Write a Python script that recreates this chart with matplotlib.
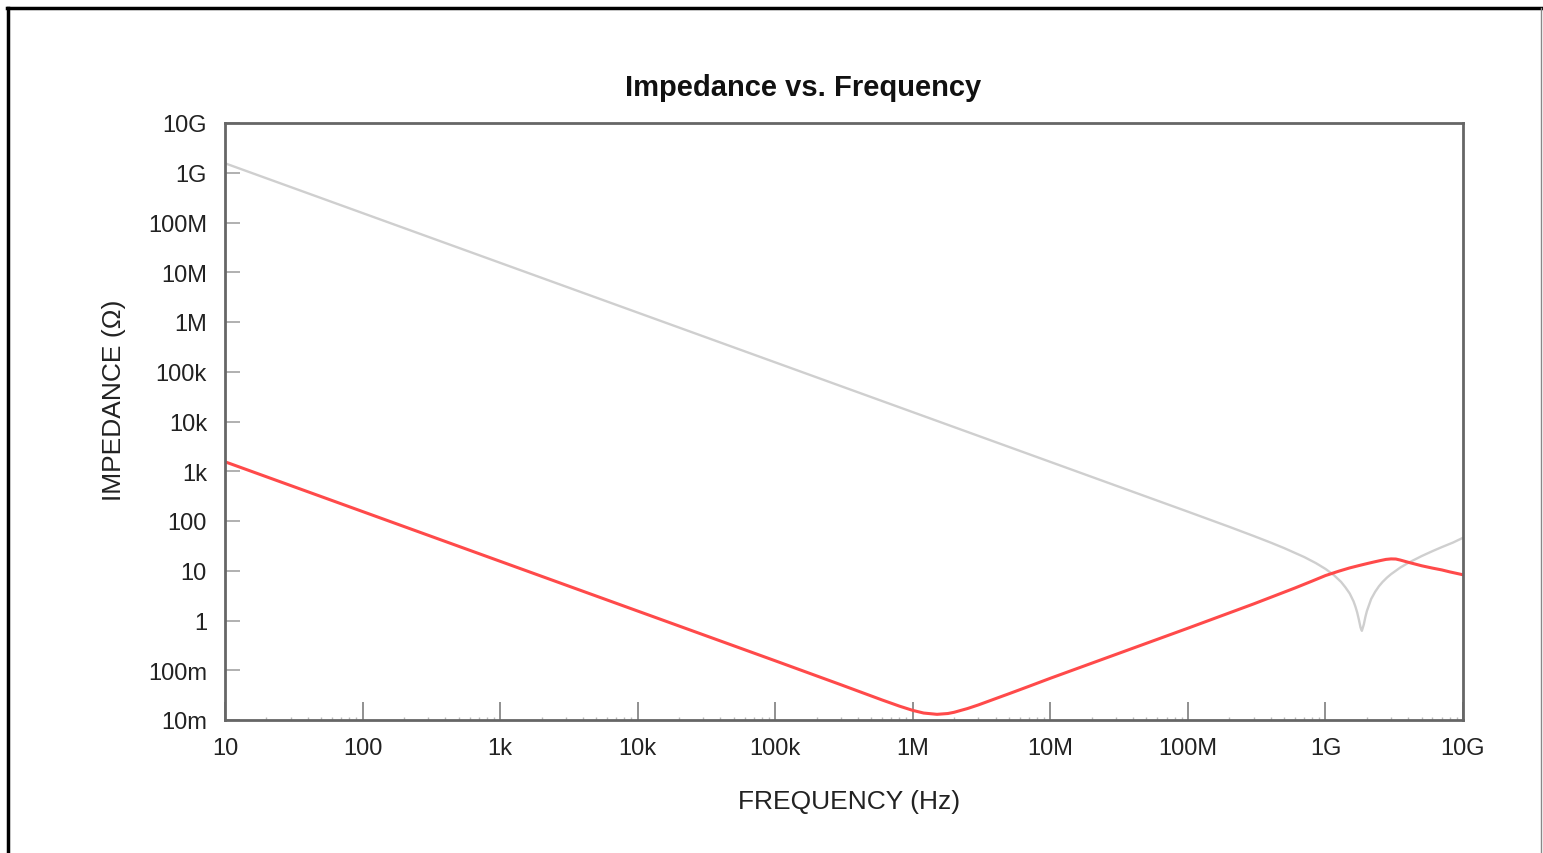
import matplotlib
matplotlib.use("Agg")
import matplotlib.pyplot as plt
from matplotlib.lines import Line2D
from matplotlib.ticker import FixedLocator, LogLocator, NullFormatter

plt.rcParams['font.family'] = ['Liberation Sans', 'DejaVu Sans']

# gray curve (small capacitor, self-resonance near 1.8 GHz)
gray_f = [10, 1e8, 2e8, 3e8, 4e8, 5e8, 7e8, 8.5e8, 1e9, 1.15e9, 1.3e9, 1.4e9, 1.5e9,
          1.6e9, 1.65e9, 1.7e9, 1.75e9, 1.8e9, 1.84e9, 1.9e9, 1.95e9, 2e9, 2.15e9,
          2.3e9, 2.45e9, 2.6e9, 2.8e9, 3e9, 3.5e9, 4e9, 5e9, 6e9, 7e9, 8.5e9, 1e10]
gray_z = [1.55e9, 154, 76.4, 50.1, 36.8, 28.6, 18.9, 14.3, 10.9, 8.2, 5.96, 4.6, 3.5,
          2.43, 1.92, 1.46, 1.04, 0.72, 0.62, 0.83, 1.17, 1.54, 2.71,
          3.79, 4.89, 5.94, 7.28, 8.55, 11.6, 14.4, 19.7, 24.8, 29.8, 37.1, 46]

# red curve (large capacitor, minimum near 1.5 MHz)
red_f = [10, 1e5, 3e5, 6e5, 8e5, 1e6, 1.2e6, 1.5e6, 1.8e6, 2e6, 2.5e6, 3e6, 4e6,
         5e6, 7e6, 1e7, 1e8, 3e8, 6e8, 8e8, 1e9, 1.25e9, 1.5e9, 1.75e9, 2e9, 2.25e9,
         2.5e9, 2.75e9, 3e9, 3.25e9, 3.5e9, 4e9, 5e9, 6e9, 7e9, 8e9, 1e10]
red_z = [1550, 0.155, 0.0512, 0.0252, 0.019, 0.0156, 0.0138, 0.013, 0.0135, 0.0143,
         0.017, 0.0201, 0.0269, 0.0337, 0.0476, 0.069, 0.70, 2.15, 4.5, 6.2, 8.0, 9.8,
         11.4, 12.7, 13.9, 15.0, 16.0, 16.9, 17.3, 17.2, 16.4, 14.8, 12.6, 11.3,
         10.4, 9.5, 8.3]

x_ticks = [1e1, 1e2, 1e3, 1e4, 1e5, 1e6, 1e7, 1e8, 1e9, 1e10]
x_labels = ['10', '100', '1k', '10k', '100k', '1M', '10M', '100M', '1G', '10G']
y_ticks = [1e-2, 1e-1, 1, 1e1, 1e2, 1e3, 1e4, 1e5, 1e6, 1e7, 1e8, 1e9, 1e10]
y_labels = ['10m', '100m', '1', '10', '100', '1k', '10k', '100k', '1M', '10M',
            '100M', '1G', '10G']

fig = plt.figure(figsize=(15.43, 8.54), dpi=100)
ax = fig.add_axes([225 / 1543, 133 / 854, 1238 / 1543, 597 / 854])

ax.plot(gray_f, gray_z, color='#cfcfcf', lw=1.7)
ax.plot(red_f, red_z, color='#ff4a4a', lw=2.2)

ax.set_xscale('log')
ax.set_yscale('log')
ax.set_xlim(10, 1e10)
ax.set_ylim(1e-2, 1e10)

ax.xaxis.set_major_locator(FixedLocator(x_ticks))
ax.set_xticklabels(x_labels)
ax.xaxis.set_minor_locator(LogLocator(base=10, subs=range(2, 10), numticks=100))
ax.xaxis.set_minor_formatter(NullFormatter())
ax.yaxis.set_major_locator(FixedLocator(y_ticks))
ax.set_yticklabels(y_labels)
ax.yaxis.set_minor_locator(FixedLocator([]))

ax.tick_params(axis='x', which='major', direction='in', length=13, width=1.3,
               color='#888888', labelsize=17, labelcolor='#222222', pad=12)
ax.tick_params(axis='x', which='minor', direction='in', length=2.5, width=1,
               color='#bbbbbb')
ax.tick_params(axis='y', which='major', direction='in', length=11, width=1.3,
               color='#aaaaaa', labelsize=17, labelcolor='#222222', pad=13)

for s in ax.spines.values():
    s.set_color('#666666')
    s.set_linewidth(2)

ax.set_xlabel('FREQUENCY (Hz)', fontsize=19, color='#222222')
ax.xaxis.set_label_coords(0.504, -0.115)
ax.set_ylabel('IMPEDANCE (\u03a9)', fontsize=19, color='#222222')
ax.yaxis.set_label_coords(-0.08, 0.537)

fig.text(803 / 1543, 1 - 88 / 854, 'Impedance vs. Frequency', ha='center',
         va='center', fontsize=21, fontweight='bold', color='#111111')

# outer frame
fig.add_artist(Line2D([7 / 1543, 1541 / 1543], [1 - 9 / 854, 1 - 9 / 854],
                      transform=fig.transFigure, color='black', lw=2.5))
fig.add_artist(Line2D([8 / 1543, 8 / 1543], [0, 1 - 9 / 854],
                      transform=fig.transFigure, color='black', lw=2.5))
fig.add_artist(Line2D([1541 / 1543, 1541 / 1543], [0, 1 - 9 / 854],
                      transform=fig.transFigure, color='#888888', lw=1))

fig.savefig('out.png', dpi=100)
